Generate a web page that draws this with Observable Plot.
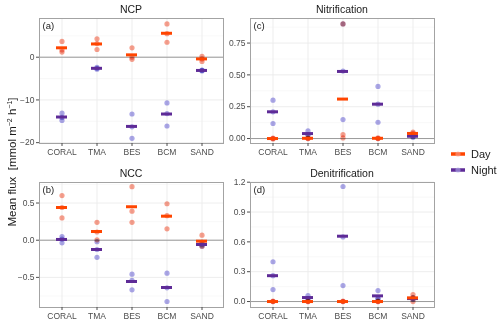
<!DOCTYPE html>
<html>
<head>
<meta charset="utf-8">
<script src="https://cdn.jsdelivr.net/npm/d3@7"></script>
<script src="https://cdn.jsdelivr.net/npm/@observablehq/plot@0.6"></script>
<style>
  html, body { margin: 0; padding: 0; background: #fff; }
  #wrap { position: relative; width: 500px; height: 322px; font-family: "Liberation Sans", Arial, sans-serif; overflow: hidden; }
  .ttl { position: absolute; font-size: 10.5px; color: #1a1a1a; transform: translate(-50%, -50%); white-space: nowrap; }
  .ylab { position: absolute; left: 12px; top: 162px; font-size: 11.5px; color: #1a1a1a; transform: translate(-50%, -50%) rotate(-90deg); white-space: nowrap; }
  .leg { position: absolute; left: 450px; font-size: 11px; color: #1a1a1a; display: flex; align-items: center; transform: translateY(-50%); }
  .leg svg { margin-right: 5px; }
</style>
</head>
<body>
<div id="wrap"></div>
<script>
// ---- data ----
const sites = ["CORAL", "TMA", "BES", "BCM", "SAND"];
const periods = ["Day", "Night"];
const panelTitles = ["NCP", "NCC", "Nitrification", "Denitrification"];
const panelTags = ["(a)", "(b)", "(c)", "(d)"];

// NCP
const ncpDayPoints   = [[3.7, 1.2, 1.7], [4.3, 1.8, 3.2], [2.2, -0.5, 0.0], [7.8, 3.5, 5.5], [0.2, -1.0, -0.4]];
const ncpDayMean     = [2.2, 3.1, 0.55, 5.6, -0.4];
const ncpNightPoints = [[-13.1, -14.8, -14.1], [-2.4, -2.8, -2.6], [-13.3, -19.0, -16.3], [-10.7, -16.1, -13.2], [-3.0, -3.2, -3.1]];
const ncpNightMean   = [-14.0, -2.6, -16.2, -13.3, -3.1];
const ncpTicks = [-20, -10, 0];
const ncpMinor = [-15, -5, 5];

// NCC
const nccDayPoints   = [[0.60, 0.30, 0.44], [0.24, 0.005, 0.11], [0.72, 0.39, 0.24], [0.49, 0.153, 0.33], [0.067, -0.08, -0.03]];
const nccDayMean     = [0.44, 0.117, 0.45, 0.323, -0.013];
const nccNightPoints = [[0.05, -0.035, 0.015], [-0.02, -0.23, -0.125], [-0.457, -0.667, -0.54], [-0.443, -0.824, -0.64], [-0.03, -0.08, -0.06]];
const nccNightMean   = [0.01, -0.125, -0.555, -0.636, -0.058];
const nccTicks = [-0.5, 0.0, 0.5];
const nccMinor = [-0.75, -0.25, 0.25, 0.75];

// Nitrification
const nitDayPoints   = [[0.0, 0.004, -0.003], [0.006, 0.0, 0.0], [0.90, 0.03, 0.005], [0.0, 0.005, 0.0], [0.05, 0.03, 0.04]];
const nitDayMean     = [0.0, 0.002, 0.31, 0.002, 0.04];
const nitNightPoints = [[0.301, 0.118, 0.21], [0.06, 0.03, 0.03], [0.90, 0.149, 0.53], [0.409, 0.128, 0.27], [0.03, 0.01, 0.015]];
const nitNightMean   = [0.21, 0.039, 0.527, 0.27, 0.018];
const nitTicks = [0.0, 0.25, 0.5, 0.75];
const nitMinor = [0.125, 0.375, 0.625, 0.875];

// Denitrification
const denDayPoints   = [[0.0, 0.005, 0.0], [0.0, 0.005, 0.0], [0.0, 0.0, 0.005], [0.0, 0.005, 0.0], [0.07, 0.0, 0.04]];
const denDayMean     = [0.0, 0.0, 0.0, 0.0, 0.037];
const denNightPoints = [[0.40, 0.12, 0.26], [0.06, 0.03, 0.03], [1.157, 0.16, 0.65], [0.11, 0.03, 0.03], [0.04, 0.02, 0.03]];
const denNightMean   = [0.26, 0.04, 0.657, 0.057, 0.03];
const denTicks = [0.0, 0.3, 0.6, 0.9, 1.2];
const denMinor = [0.15, 0.45, 0.75, 1.05];

// ---- styling ----
const dayBar = "#ff4500", nightBar = "#5e2b97";
const dayDot = "#f8a08e", nightDot = "#aba7e8";
const FONT = "'Liberation Sans', Arial, sans-serif";

const panels = [
  {dp: ncpDayPoints, dm: ncpDayMean, np: ncpNightPoints, nm: ncpNightMean, ticks: ncpTicks, minor: ncpMinor, domain: [-20.2, 9.06], fmt: d3.format("d"), left: 39, top: 18},
  {dp: nccDayPoints, dm: nccDayMean, np: nccNightPoints, nm: nccNightMean, ticks: nccTicks, minor: nccMinor, domain: [-0.905, 0.776], fmt: d3.format(".1f"), left: 39, top: 182},
  {dp: nitDayPoints, dm: nitDayMean, np: nitNightPoints, nm: nitNightMean, ticks: nitTicks, minor: nitMinor, domain: [-0.039, 0.943], fmt: d3.format(".2f"), left: 250, top: 18},
  {dp: denDayPoints, dm: denDayMean, np: denNightPoints, nm: denNightMean, ticks: denTicks, minor: denMinor, domain: [-0.060, 1.197], fmt: d3.format(".1f"), left: 250, top: 182}
];

const wrap = document.getElementById("wrap");
const W = 184, H = 125, ML = 30, MR = 1, MT = 1, MB = 16;

panels.forEach((p, k) => {
  const pts = [];
  sites.forEach((s, i) => {
    p.dp[i].forEach(v => pts.push({site: s, value: v, period: "Day"}));
    p.np[i].forEach(v => pts.push({site: s, value: v, period: "Night"}));
  });
  const means = [];
  sites.forEach((s, i) => {
    means.push({site: s, value: p.nm[i], period: "Night"});
    means.push({site: s, value: p.dm[i], period: "Day"});
  });
  const svg = Plot.plot({
    width: W + ML + MR, height: H + MT + MB,
    marginLeft: ML, marginRight: MR, marginTop: MT, marginBottom: MB,
    style: {fontFamily: FONT, fontSize: "8.5px", background: "transparent", overflow: "visible"},
    x: {type: "band", domain: sites, paddingInner: 0.69, paddingOuter: 0.445, label: null},
    y: {domain: p.domain, label: null},
    color: {domain: periods, range: [dayDot, nightDot]},
    marks: [
      Plot.ruleY(p.minor, {stroke: "#f3f3f3", strokeWidth: 0.6}),
      Plot.gridY({ticks: p.ticks, stroke: "#ebebeb", strokeOpacity: 1, strokeWidth: 0.9}),
      Plot.gridX({stroke: "#ebebeb", strokeOpacity: 1, strokeWidth: 0.9}),
      Plot.ruleY([0], {stroke: "#9a9a9a", strokeWidth: 1}),
      Plot.dot(pts, {x: "site", y: "value", fill: "period", r: 2.6, stroke: null, mixBlendMode: "multiply"}),
      Plot.tickY(means, {x: "site", y: "value", stroke: d => d.period === "Day" ? dayBar : nightBar, strokeWidth: 3}),
      Plot.frame({stroke: "#a3a3a3", strokeWidth: 1}),
      Plot.text([panelTags[k]], {text: d => d, frameAnchor: "top-left", dx: 3, dy: 4, fontSize: 9.5, fill: "#1a1a1a"}),
      Plot.axisY({ticks: p.ticks, tickFormat: p.fmt, tickSize: 3, tickPadding: 2, fontSize: 8.5, color: "#4d4d4d", label: null}),
      Plot.axisX({tickSize: 3, tickPadding: 2, fontSize: 8.5, color: "#4d4d4d", label: null})
    ]
  });
  svg.style.position = "absolute";
  svg.style.left = (p.left - ML) + "px";
  svg.style.top = (p.top - MT) + "px";
  wrap.appendChild(svg);

  const t = document.createElement("div");
  t.className = "ttl";
  t.textContent = panelTitles[k];
  t.style.left = (p.left + W / 2) + "px";
  t.style.top = (p.top - 9.5) + "px";
  wrap.appendChild(t);
});

// y-axis title
const yl = document.createElement("div");
yl.className = "ylab";
yl.innerHTML = "Mean flux&nbsp;&nbsp;[mmol m<sup style='font-size:7px'>−2</sup> h<sup style='font-size:7px'>−1</sup>]";
wrap.appendChild(yl);

// legend
[["Day", dayBar, dayDot, 154], ["Night", nightBar, nightDot, 170]].forEach(([lab, bar, dot, y]) => {
  const d = document.createElement("div");
  d.className = "leg";
  d.style.top = y + "px";
  d.innerHTML = `<svg width="16" height="10"><line x1="1" x2="15" y1="5" y2="5" stroke="${bar}" stroke-width="3.5"/><circle cx="8" cy="5" r="2.6" fill="${dot}" fill-opacity="0.6"/></svg><span>${lab}</span>`;
  wrap.appendChild(d);
});
</script>
</body>
</html>
